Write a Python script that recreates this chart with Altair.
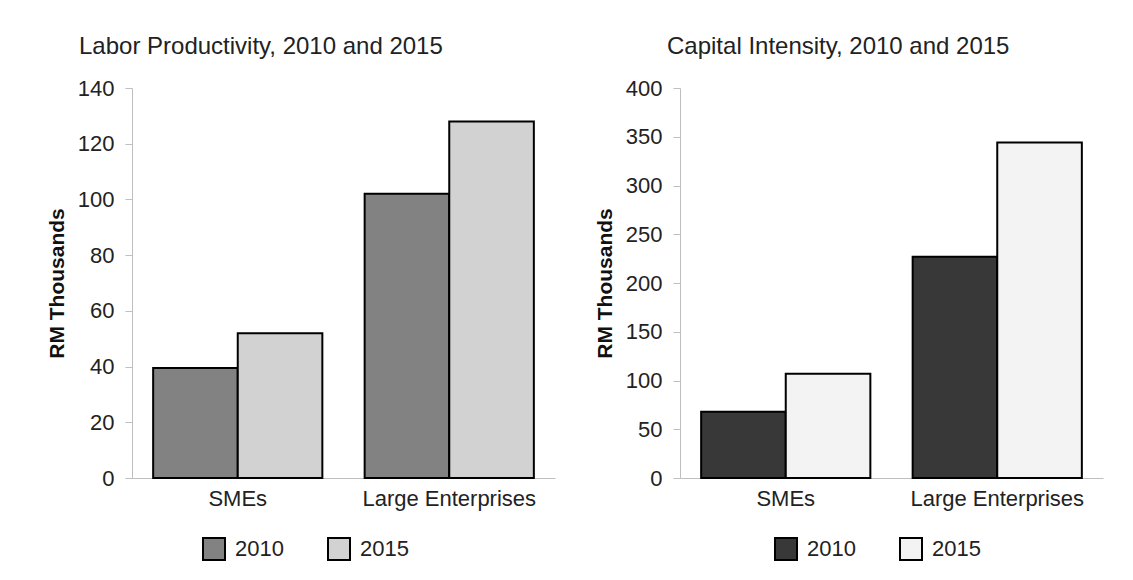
import altair as alt
import pandas as pd

categories = ["SMEs", "Large Enterprises"]
years = ["2010", "2015"]
labor_2010 = [39.5, 102]
labor_2015 = [52, 128]
capital_2010 = [68, 227]
capital_2015 = [107, 344]

def make_df(v2010, v2015):
    rows = []
    for i, c in enumerate(categories):
        rows.append({"category": c, "year": years[0], "value": v2010[i]})
        rows.append({"category": c, "year": years[1], "value": v2015[i]})
    return pd.DataFrame(rows)

FONT = "Liberation Sans"

def panel(df, title, ymax, ystep, colors, title_dx, legend_x):
    return alt.Chart(df).mark_bar(stroke="black", strokeWidth=2).encode(
        x=alt.X("category:N", sort=categories, title=None,
                scale=alt.Scale(paddingInner=0.2, paddingOuter=0.1),
                axis=alt.Axis(labelAngle=0, ticks=False, labelPadding=10,
                              domainColor="#bfbfbf", labelFontSize=22,
                              labelColor="#222222", labelFont=FONT)),
        xOffset=alt.XOffset("year:N", sort=years,
                            scale=alt.Scale(paddingInner=0, paddingOuter=0)),
        y=alt.Y("value:Q", title="RM Thousands",
                scale=alt.Scale(domain=[0, ymax], nice=False),
                axis=alt.Axis(values=list(range(0, ymax + 1, ystep)), grid=False,
                              tickSize=7, tickColor="#bfbfbf", domainColor="#bfbfbf",
                              labelPadding=11, labelFontSize=22, labelColor="#222222",
                              labelFont=FONT, titleFont=FONT, titleFontSize=21,
                              titleFontWeight="bold", titleColor="#111111",
                              titlePadding=10)),
        fill=alt.Fill("year:N", sort=years,
                      scale=alt.Scale(domain=years, range=colors),
                      legend=alt.Legend(title=None, orient="none", direction="horizontal",
                                        legendX=legend_x, legendY=449,
                                        symbolType="square", symbolSize=484,
                                        symbolStrokeColor="black", symbolStrokeWidth=2,
                                        labelFontSize=22, labelFont=FONT,
                                        labelColor="#222222", labelOffset=9,
                                        columnPadding=40)),
    ).properties(
        width=423, height=390,
        title=alt.TitleParams(title, anchor="start", frame="group", dx=title_dx,
                              fontSize=24, fontWeight="normal", font=FONT,
                              color="#222222", offset=18),
    )

left = panel(make_df(labor_2010, labor_2015), "Labor Productivity, 2010 and 2015",
             140, 20, ["#828282", "#d2d2d2"], -53, 70)
right = panel(make_df(capital_2010, capital_2015), "Capital Intensity, 2010 and 2015",
              400, 50, ["#383838", "#f3f3f3"], -13, 94)

chart = alt.hconcat(left, right, spacing=39).resolve_scale(fill="independent").properties(
    padding={"left": 38, "top": 27, "right": 5, "bottom": 5},
    background="white",
).configure_view(stroke="transparent", strokeWidth=0)

chart.save("out.html", embed_options={"renderer": "svg", "actions": False})
